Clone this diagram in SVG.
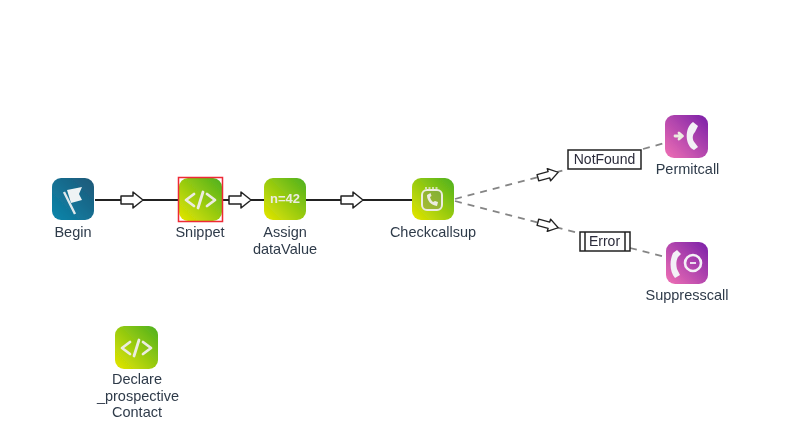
<svg xmlns="http://www.w3.org/2000/svg" width="800" height="443" viewBox="0 0 800 443">
<style>
.lbl{font-family:"Liberation Sans",Arial,sans-serif;font-size:14.500px;fill:#2f3b4a;text-anchor:middle}
.solid{stroke:#222;stroke-width:1.800;fill:none}
.dash{stroke:#858585;stroke-width:1.800;stroke-dasharray:7 6;fill:none}
.ico{fill:none;stroke:#ecece0;stroke-width:2.800;stroke-linecap:round;stroke-linejoin:round}
.box{fill:#fff;stroke:#222;stroke-width:1.500}
.tag{font-family:"Liberation Sans",Arial,sans-serif;font-size:14px;fill:#2b2b3a;text-anchor:middle}
</style>
<defs>
<linearGradient id="g" x1="0" y1="1" x2="1" y2="0"><stop offset="0" stop-color="#e6e600"/><stop offset="1" stop-color="#4cb01f"/></linearGradient>
<linearGradient id="p" x1="0" y1="1" x2="1" y2="0"><stop offset="0" stop-color="#f070b4"/><stop offset="1" stop-color="#7a1fa8"/></linearGradient>
<linearGradient id="b" x1="0" y1="1" x2="1" y2="0"><stop offset="0" stop-color="#0b86ab"/><stop offset="1" stop-color="#1f5878"/></linearGradient>
<path id="ar" d="M-11-4H1V-8L11 0 1 8V4H-11Z" fill="#fff" stroke="#222" stroke-width="1.500" stroke-linejoin="round"/>
<filter id="soft" x="0" y="0" width="100%" height="100%"><feGaussianBlur stdDeviation="0.400"/></filter>
</defs>
<g filter="url(#soft)">
<g id="connectors">
<path class="solid" d="M95 200H179M222 200H264M306 200H412"/>
<path class="dash" d="M455 199L565 170M643 149L665 143M455 201L578 233M630 248L665 257"/>
<use href="#ar" transform="translate(548 175) rotate(-15) scale(.95 .8)"/>
<use href="#ar" transform="translate(548 225) rotate(15) scale(.95 .8)"/>
<use href="#ar" transform="translate(132 200)"/>
<use href="#ar" transform="translate(240 200)"/>
<use href="#ar" transform="translate(352 200)"/>
</g>
<g id="begin">
<rect x="52" y="178" width="42" height="42" rx="9" fill="url(#b)"/>
<path d="M64 192L75 214" stroke="#dfe9ec" stroke-width="2.400" fill="none"/>
<path d="M67 190L82 187L79 194L82 200L71 203Z" fill="#eef3f4"/>
<text class="lbl" x="73" y="237">Begin</text>
</g>
<g id="snippet">
<rect x="179" y="178" width="43" height="43" rx="9" fill="url(#g)"/>
<rect x="178.500" y="177.500" width="44" height="44" fill="none" stroke="#ee2a35" stroke-width="1.500"/>
<path class="ico" d="M194 194L186 200L194 206M207 194L215 200L207 206M203 192L198 208"/>
<text class="lbl" x="200" y="237">Snippet</text>
</g>
<g id="assign">
<rect x="264" y="178" width="42" height="42" rx="9" fill="url(#g)"/>
<text x="285" y="203" font-family="Liberation Sans,Arial,sans-serif" font-size="13" font-weight="bold" fill="#ecece0" text-anchor="middle">n=42</text>
<text class="lbl" x="285" y="237">Assign</text>
<text class="lbl" x="285" y="254">dataValue</text>
</g>
<g id="check">
<rect x="412" y="178" width="42" height="42" rx="9" fill="url(#g)"/>
<rect x="422" y="190" width="20" height="20" rx="5" fill="#8a9a60" fill-opacity=".45" stroke="#ecece0" stroke-width="2"/>
<path d="M425 188h14" stroke="#ecece0" stroke-width="1.500" stroke-dasharray="2 1.500"/>
<path d="M427 195C427 201 431 205 437 206L438 202L435 201L433 202C431 200 430.500 199 430 197L431.500 196L430.500 193Z" fill="#ecece0"/>
<text class="lbl" x="433" y="237">Checkcallsup</text>
</g>
<g id="permit">
<rect x="665" y="115" width="43" height="43" rx="9" fill="url(#p)"/>
<path class="ico" d="M675 136H682M679 133L682.500 136L679 139" stroke-width="2.200"/>
<path d="M693 122L698 126L695 132C692 135 692 140 695 143L698 147L694 150C685 146 684 128 693 122Z" fill="#f3f0f6"/>
<text class="lbl" x="687.500" y="174">Permitcall</text>
</g>
<g id="suppress">
<rect x="666" y="242" width="42" height="42" rx="9" fill="url(#p)"/>
<path d="M677 250L673 253C669 262 670 272 675 278L680 275L677 269C676 265 676 261 678 257L681 254Z" fill="#f3f0f6"/>
<circle cx="693" cy="263" r="8" fill="none" stroke="#f3f0f6" stroke-width="2.600"/>
<path d="M690 263H696" stroke="#f3f0f6" stroke-width="1.800"/>
<text class="lbl" x="687" y="300">Suppresscall</text>
</g>
<g id="notfound">
<rect class="box" x="568" y="150" width="73" height="19"/>
<text class="tag" x="604.500" y="164">NotFound</text>
</g>
<g id="error">
<rect class="box" x="580" y="232" width="50" height="19"/>
<path class="box" d="M585 232V251M625 232V251"/>
<text class="tag" x="604.500" y="246">Error</text>
</g>
<g id="declare">
<rect x="115" y="326" width="43" height="43" rx="9" fill="url(#g)"/>
<path class="ico" d="M130 342L122 348L130 354M143 342L151 348L143 354M139 340L134 356"/>
<text class="lbl" x="137" y="384">Declare</text>
<text class="lbl" x="138" y="401">_prospective</text>
<text class="lbl" x="137" y="417">Contact</text>
</g>
</g>
</svg>
